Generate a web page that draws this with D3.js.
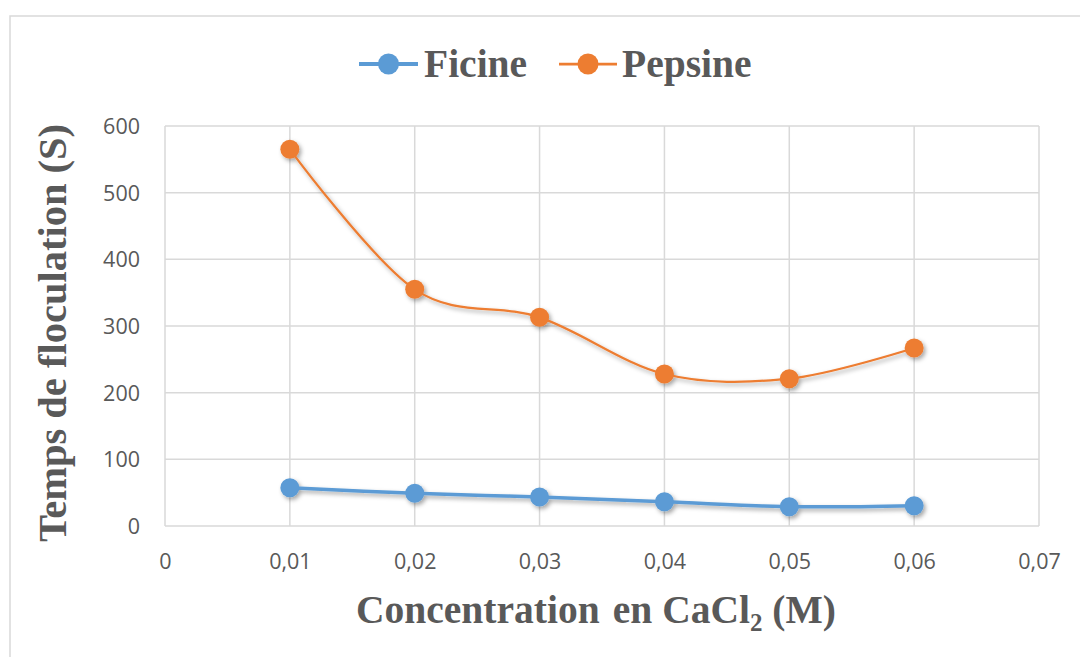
<!DOCTYPE html>
<html>
<head>
<meta charset="utf-8">
<script src="https://cdn.jsdelivr.net/npm/d3@7"></script>
<style>
  html, body { margin: 0; padding: 0; background: #fff; }
  svg { display: block; }
</style>
</head>
<body>
<svg id="chart" width="1080" height="657"></svg>
<script>
// CaCl2 concentration (M) and flocculation times (s) for each enzyme
const concentrations = [0.01, 0.02, 0.03, 0.04, 0.05, 0.06];
const ficine  = [57.5, 49, 43.5, 36.5, 29, 30.5];
const pepsine = [565, 355, 313, 228, 221, 267];
const xTicks = [0, 0.01, 0.02, 0.03, 0.04, 0.05, 0.06, 0.07];
const yTicks = [0, 100, 200, 300, 400, 500, 600];
const seriesNames = ["Ficine", "Pepsine"];
const seriesColors = ["#5B9BD5", "#ED7D31"];

const svg = d3.select("#chart");
const W = 1080, H = 657;
const plot = { left: 165, right: 1039, top: 126, bottom: 526 };
const grey = "#595959", gridCol = "#d9d9d9";

svg.append("rect").attr("width", W).attr("height", H).attr("fill", "#fff");

// outer chart frame
svg.append("rect")
  .attr("x", 10).attr("y", 16).attr("width", W + 20).attr("height", H + 20)
  .attr("fill", "none").attr("stroke", gridCol).attr("stroke-width", 1.5);

const defs = svg.append("defs");
const f = defs.append("filter").attr("id", "shadow")
  .attr("x", "-20%").attr("y", "-50%").attr("width", "140%").attr("height", "200%");
f.append("feDropShadow").attr("dx", 2).attr("dy", 2.5).attr("stdDeviation", 2)
  .attr("flood-color", "#000").attr("flood-opacity", 0.35);

const x = d3.scaleLinear().domain([0, 0.07]).range([plot.left, plot.right]);
const y = d3.scaleLinear().domain([0, 600]).range([plot.bottom, plot.top]);
const fmt = v => d3.format(".2~f")(v).replace(".", ",");

// gridlines
const g = svg.append("g");
g.selectAll(".hg").data(yTicks).join("line")
  .attr("x1", plot.left).attr("x2", plot.right)
  .attr("y1", d => y(d)).attr("y2", d => y(d))
  .attr("stroke", gridCol).attr("stroke-width", 1.5);
g.selectAll(".vg").data(xTicks).join("line")
  .attr("x1", d => x(d)).attr("x2", d => x(d))
  .attr("y1", plot.top).attr("y2", plot.bottom)
  .attr("stroke", gridCol).attr("stroke-width", 1.5);

// axes (labels only)
const tickFont = "'Open Sans', sans-serif";
const xAxis = svg.append("g").attr("transform", `translate(0,${plot.bottom})`)
  .call(d3.axisBottom(x).tickValues(xTicks).tickFormat(fmt).tickSize(0));
xAxis.select(".domain").remove();
xAxis.selectAll("text")
  .attr("y", 43).attr("dy", null)
  .attr("fill", grey).style("font-family", tickFont).style("font-size", "21.5px");

const yAxis = svg.append("g").attr("transform", `translate(${plot.left},0)`)
  .call(d3.axisLeft(y).tickValues(yTicks).tickFormat(d3.format("d")).tickSize(0));
yAxis.select(".domain").remove();
yAxis.selectAll("text")
  .attr("x", -25).attr("dy", "0.35em")
  .attr("fill", grey).style("font-family", tickFont).style("font-size", "21.5px");

// series
const line = d3.line().x(d => x(d[0])).y(d => y(d[1])).curve(d3.curveCatmullRom.alpha(0));
const allSeries = [ficine, pepsine];
const widths = [3.5, 2.25];
allSeries.forEach((vals, i) => {
  const pts = concentrations.map((c, k) => [c, vals[k]]);
  const sg = svg.append("g").attr("filter", "url(#shadow)");
  sg.append("path").datum(pts).attr("d", line)
    .attr("fill", "none").attr("stroke", seriesColors[i]).attr("stroke-width", widths[i]);
  sg.selectAll("circle").data(pts).join("circle")
    .attr("cx", d => x(d[0])).attr("cy", d => y(d[1])).attr("r", 9.5)
    .attr("fill", seriesColors[i]);
});

// legend
const legendItems = [
  { x0: 359, x1: 418, tx: 424 },
  { x0: 559, x1: 617, tx: 622 }
];
legendItems.forEach((it, i) => {
  const lg = svg.append("g");
  lg.append("line").attr("x1", it.x0).attr("x2", it.x1).attr("y1", 64).attr("y2", 64)
    .attr("stroke", seriesColors[i]).attr("stroke-width", widths[i] + 0.5);
  lg.append("circle").attr("cx", (it.x0 + it.x1) / 2).attr("cy", 64).attr("r", 10.5)
    .attr("fill", seriesColors[i]);
  lg.append("text").attr("x", it.tx).attr("y", 77)
    .attr("fill", grey).style("font-family", "'Liberation Serif', 'Times New Roman', serif")
    .style("font-weight", "bold").style("font-size", "39.5px")
    .text(seriesNames[i]);
});

// axis titles
const xt = svg.append("text").attr("x", 596).attr("y", 623).attr("text-anchor", "middle")
  .attr("fill", grey).style("font-family", "'Liberation Serif', 'Times New Roman', serif")
  .style("font-weight", "bold").style("font-size", "39.5px");
xt.append("tspan").text("Concentration \u200Aen CaCl");
xt.append("tspan").attr("dy", 8).style("font-size", "25px").text("2");
xt.append("tspan").attr("dy", -8).text(" (M)");

svg.append("text").attr("transform", "translate(66,333) rotate(-90)")
  .attr("text-anchor", "middle")
  .attr("fill", grey).style("font-family", "'Liberation Serif', 'Times New Roman', serif")
  .style("font-weight", "bold").style("font-size", "40.5px")
  .text("Temps de floculation (S)");
</script>
</body>
</html>
